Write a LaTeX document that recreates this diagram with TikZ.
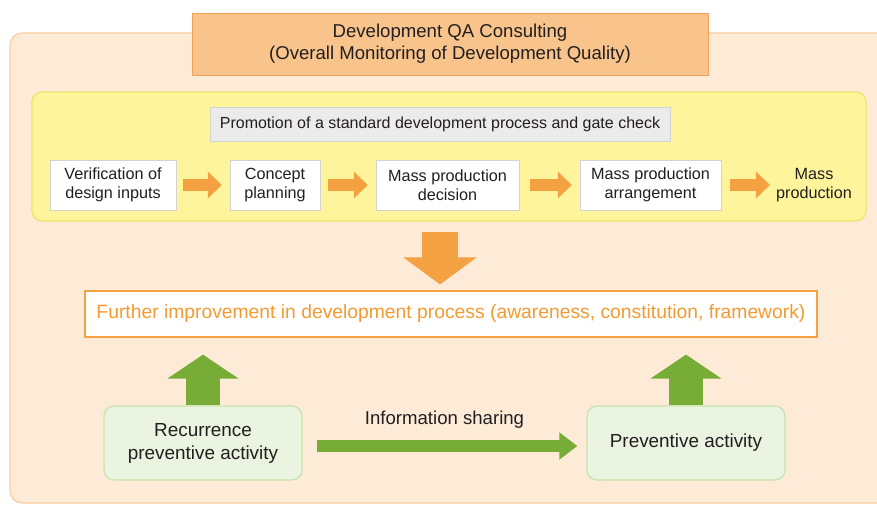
\documentclass[tikz,border=0pt]{standalone}
\usepackage{fontspec}
\setmainfont{Liberation Sans}
\usetikzlibrary{arrows.meta}
\definecolor{panelfill}{HTML}{FDEBD8}
\definecolor{panelline}{HTML}{F8CFA0}
\definecolor{titlefill}{HTML}{F8C48C}
\definecolor{titleline}{HTML}{EFA35A}
\definecolor{yelfill}{HTML}{FEF49C}
\definecolor{yelline}{HTML}{F3E26A}
\definecolor{greyfill}{HTML}{EBEBEB}
\definecolor{greyline}{HTML}{D2D2D2}
\definecolor{orangearrow}{HTML}{F4A142}
\definecolor{orangetext}{HTML}{F39B32}
\definecolor{greenarrow}{HTML}{77AD36}
\definecolor{greenfill}{HTML}{EBF4E0}
\definecolor{greenline}{HTML}{C8E2AC}
\definecolor{txt}{HTML}{231F20}
\tikzset{
  stepbox/.style={draw=greyline, fill=white, minimum height=50pt, align=center, font=\fontsize{16.2}{19.5}\selectfont, text=txt, inner sep=0pt},
  smallarrow/.style={draw=orangearrow, line width=12pt, -{Triangle[length=14pt,width=26pt]}},
  greenbox/.style={draw=greenline, fill=greenfill, rounded corners=10pt, line width=1.2pt, minimum width=198pt, minimum height=74pt, align=center, font=\fontsize{18.9}{23}\selectfont, text=txt, inner sep=0pt},
  bigup/.style={draw=greenarrow, line width=34pt, -{Triangle[length=24pt,width=70pt]}},
}
\begin{document}
\begin{tikzpicture}[x=1pt,y=-1pt]
\useasboundingbox (0,0) rectangle (877,506);
% outer panel
\draw[panelline, fill=panelfill, line width=1.2pt, rounded corners=12pt] (10,33) rectangle (895,503);
% title
\node[draw=titleline, fill=titlefill, line width=1pt, minimum width=516pt, minimum height=62pt, align=center, font=\fontsize{18.6}{22}\selectfont, text=txt, inner sep=0pt] (title) at (450,44) {Development QA Consulting\\(Overall Monitoring of Development Quality)};
% yellow panel
\draw[yelline, fill=yelfill, line width=1.2pt, rounded corners=10pt] (32,92) rectangle (866,221);
\coordinate (yelbottom) at (440,221);
\node[draw=greyline, fill=greyfill, minimum width=460pt, minimum height=34pt, font=\fontsize{16}{19}\selectfont, text=txt, inner sep=0pt] (gate) at (440,124) {Promotion of a standard development process and gate check};
% process steps
\node[stepbox, minimum width=126pt] (s1) at (113,185) {Verification of\\design inputs};
\node[stepbox, minimum width=90pt] (s2) at (275,185) {Concept\\planning};
\node[stepbox, minimum width=143pt] (s3) at (447.5,185) {Mass production\\decision};
\node[stepbox, minimum width=141pt] (s4) at (650.5,185) {Mass production\\arrangement};
\node[align=center, font=\fontsize{16.2}{19.5}\selectfont, text=txt, inner sep=0pt] (s5) at (814,185) {Mass\\production};
\draw[smallarrow, shorten <=7pt, shorten >=8pt] (s1.east) -- (s2.west);
\draw[smallarrow, shorten <=8pt, shorten >=8pt] (s2.east) -- (s3.west);
\draw[smallarrow, shorten <=11pt, shorten >=8pt] (s3.east) -- (s4.west);
\draw[smallarrow, shorten <=9pt, shorten >=6pt] (s4.east) -- (s5.west |- s4.east);
% further improvement
\node[draw=orangearrow, fill=white, line width=1.2pt, minimum width=732pt, minimum height=46pt, font=\fontsize{19.3}{22}\selectfont, text=orangetext, inner sep=0pt] (further) at (451,314) {Further improvement in development process (awareness, constitution, framework)};
\draw[draw=orangearrow, line width=36pt, -{Triangle[length=27pt,width=72pt]}, shorten <=11pt, shorten >=6pt] (yelbottom) -- (further.north -| yelbottom);
% green boxes
\node[greenbox] (rec) at (203,443) {Recurrence\\preventive activity};
\node[greenbox] (prev) at (686,443) {Preventive activity};
\draw[bigup, shorten >=17pt] (rec.north) -- (rec.north |- further.south);
\draw[bigup, shorten >=17pt] (prev.north) -- (prev.north |- further.south);
\draw[draw=greenarrow, line width=12pt, -{Triangle[length=18pt,width=26pt]}, shorten <=14pt, shorten >=9pt] (rec.east |- 0,446) -- node[above=8pt, font=\fontsize{18.6}{21}\selectfont, text=txt] (info) {Information sharing} (prev.west |- 0,446);
\end{tikzpicture}
\end{document}
